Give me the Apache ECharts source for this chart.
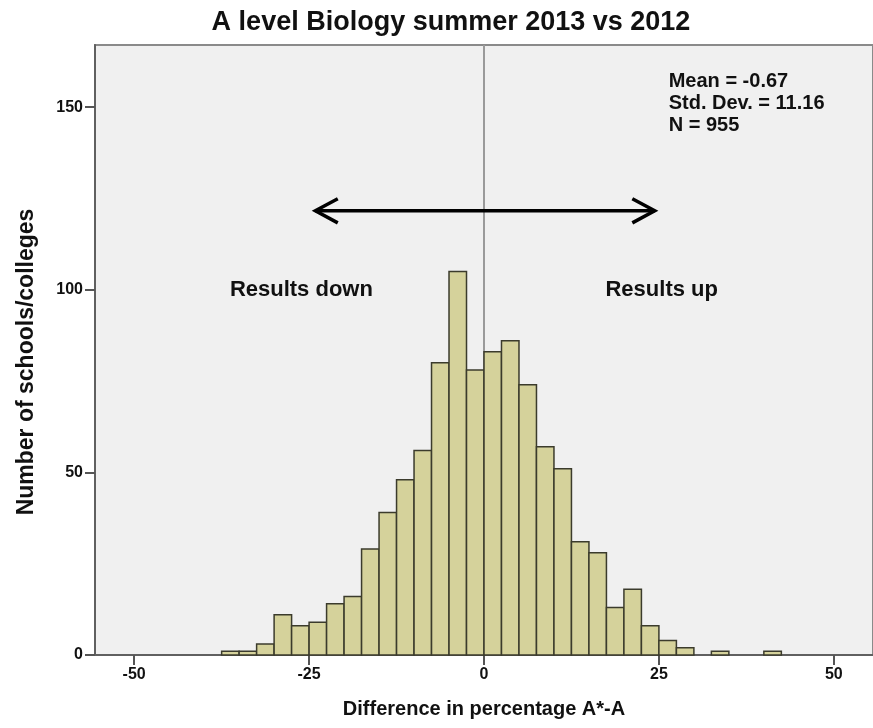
<!DOCTYPE html>
<html>
<head>
<meta charset="utf-8">
<script src="https://cdn.jsdelivr.net/npm/echarts@6/dist/echarts.min.js"></script>
<style>
  html, body { margin: 0; padding: 0; background: #ffffff; }
  #chart { width: 873px; height: 728px; }
</style>
</head>
<body>
<div id="chart"></div>
<script>
// ---- data ----
const binStarts = [-37.5, -35, -32.5, -30, -27.5, -25, -22.5, -20, -17.5, -15, -12.5, -10, -7.5, -5, -2.5,
                   0, 2.5, 5, 7.5, 10, 12.5, 15, 17.5, 20, 22.5, 25, 27.5, 32.5, 40];
const counts    = [1, 1, 3, 11, 8, 9, 14, 16, 29, 39, 48, 56, 80, 105, 78,
                   83, 86, 74, 57, 51, 31, 28, 13, 18, 8, 4, 2, 1, 1];
const binWidth = 2.5;
const xTicks = [-50, -25, 0, 25, 50];
const yTicks = [0, 50, 100, 150];
const statLines = ['Mean = -0.67', 'Std. Dev. = 11.16', 'N = 955'];
const statAnchor = [26.4, 159.9];
const annotations = [
  { name: 'Results down', value: [-26.1, 100] },
  { name: 'Results up', value: [25.4, 100] }
];
const arrowShaft = [[-24.1, 121.6], [24.4, 121.6]];
const arrowHeadLeft = [[-20.9, 124.9], [-24.1, 121.6], [-20.9, 118.3]];
const arrowHeadRight = [[21.2, 124.9], [24.4, 121.6], [21.2, 118.3]];

const FONT = "'Liberation Sans', Arial, sans-serif";
const histData = binStarts.map((s, i) => [s, s + binWidth, counts[i]]);

const chart = echarts.init(document.getElementById('chart'), null, { renderer: 'canvas' });

const arrowLine = (data) => ({
  type: 'line', data: data, symbol: 'none', silent: true, z: 5,
  lineStyle: { color: '#000000', width: 3.5, cap: 'butt', join: 'miter' },
  animation: false
});

chart.setOption({
  animation: false,
  backgroundColor: '#ffffff',
  title: {
    text: 'A level Biology summer 2013 vs 2012',
    left: 446, top: 4, textAlign: 'center',
    textStyle: { fontFamily: FONT, fontSize: 27, fontWeight: 'bold', color: '#111111' }
  },
  grid: {
    left: 95, top: 45, width: 782, height: 610,
    show: true, backgroundColor: '#f0f0f0', borderColor: '#8a8a8a', borderWidth: 2
  },
  xAxis: {
    type: 'value', min: -55.6, max: 55.6,
    name: 'Difference in percentage A*-A',
    nameLocation: 'middle', nameGap: 44,
    nameTextStyle: { fontFamily: FONT, fontSize: 20, fontWeight: 'bold', color: '#111111' },
    axisLine: { show: true, onZero: false, lineStyle: { color: '#606060', width: 2 } },
    axisTick: { show: true, length: 10, customValues: xTicks, lineStyle: { color: '#555555', width: 2 } },
    axisLabel: { customValues: xTicks, margin: 12, fontFamily: FONT, fontSize: 16, fontWeight: 'bold', color: '#111111' },
    splitLine: { show: false }
  },
  yAxis: {
    type: 'value', min: 0, max: 167,
    name: 'Number of schools/colleges',
    nameLocation: 'middle', nameGap: 57,
    nameTextStyle: { fontFamily: FONT, fontSize: 23, fontWeight: 'bold', color: '#111111', padding: [0, 24, 0, 0] },
    axisLine: { show: true, onZero: false, lineStyle: { color: '#606060', width: 2 } },
    axisTick: { show: true, length: 10, customValues: yTicks, lineStyle: { color: '#555555', width: 2 } },
    axisLabel: { customValues: yTicks, margin: 12, fontFamily: FONT, fontSize: 16, fontWeight: 'bold', color: '#111111' },
    splitLine: { show: false }
  },
  series: [
    {
      type: 'custom',
      data: histData,
      encode: { x: [0, 1], y: 2 },
      z: 3,
      renderItem: function (params, api) {
        const p0 = api.coord([api.value(0), api.value(2)]);
        const p1 = api.coord([api.value(1), 0]);
        return {
          type: 'rect',
          shape: { x: p0[0], y: p0[1], width: p1[0] - p0[0], height: p1[1] - p0[1] },
          style: { fill: '#d5d29b', stroke: '#3b3b2c', lineWidth: 1.5 }
        };
      },
      markLine: {
        silent: true, symbol: 'none', z: 1,
        label: { show: false },
        lineStyle: { color: '#9a9a9a', width: 2, type: 'solid' },
        data: [{ xAxis: 0 }]
      }
    },
    arrowLine(arrowShaft),
    arrowLine(arrowHeadLeft),
    arrowLine(arrowHeadRight),
    {
      type: 'scatter', symbolSize: 0, silent: true, z: 6,
      itemStyle: { opacity: 1 },
      data: annotations,
      label: {
        show: true, position: 'inside', formatter: '{b}',
        fontFamily: FONT, fontSize: 22, fontWeight: 'bold', color: '#111111'
      }
    },
    {
      type: 'scatter', symbolSize: 0, silent: true, z: 6,
      itemStyle: { opacity: 1 },
      data: [{ value: statAnchor, name: statLines.join('\n') }],
      label: {
        show: true, position: 'inside', formatter: '{b}',
        align: 'left', verticalAlign: 'top', lineHeight: 22,
        fontFamily: FONT, fontSize: 20, fontWeight: 'bold', color: '#111111'
      }
    }
  ]
});
</script>
</body>
</html>
